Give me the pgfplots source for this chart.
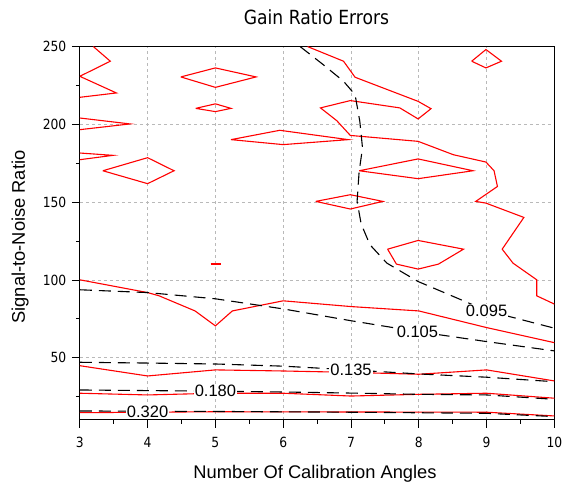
\documentclass[border=0pt]{standalone}
\usepackage{pgfplots}
\pgfplotsset{compat=1.18}
\usepackage{fontspec}
\setmainfont{DejaVu Sans}[FakeStretch=0.88]
\newfontfamily\arialfont{Liberation Sans}

\begin{document}
\begin{tikzpicture}
\useasboundingbox (-79.8pt,-67pt) rectangle (486.2pt,420pt);
\begin{axis}[
    scale only axis,
    width=474.6pt, height=373.4pt,
    xmin=3, xmax=10, ymin=10, ymax=250,
    xtick={3,...,10}, minor x tick num=1,
    ytick={50,100,...,250}, minor ytick={25,75,...,225},
    xtick pos=bottom, ytick pos=left,
    tick align=outside,
    major tick length=8pt, minor tick length=4pt,
    tick style={black, line width=0.8pt},
    grid=major,
    major grid style={gray!55, dash pattern=on 3pt off 3pt, line width=0.7pt},
    axis line style={line width=1pt},
    /pgf/number format/assume math mode=true,
    ticklabel style={font=\fontsize{14}{16}\selectfont},
    xticklabel style={anchor=base, yshift=-20pt},
    yticklabel style={anchor=east, xshift=-2pt},
    red contour/.style={red, line width=1.1pt},
    level/.style={black, line width=1.1pt, dash pattern=on 12pt off 7pt},
]
% red contour set
\addplot[red contour] coordinates {(3.20,250)(3.45,240.6)(3.0,230.9)(3.54,220.2)(3.0,217.4)};
\addplot[red contour] coordinates {(3,204.1)(3.74,200.3)(3,196.6)};
\addplot[red contour] coordinates {(3,181.6)(3.49,180.1)(3,177.3)};
\addplot[red contour] coordinates {(3.34,170.2)(4,178.6)(4.39,170.2)(4,161.9)(3.34,170.2)};
\addplot[red contour] coordinates {(4.49,230.5)(5,236.3)(5.60,230.5)(5,223.8)(4.49,230.5)};
\addplot[red contour] coordinates {(4.71,210.3)(5,213.2)(5.23,210.3)(5,208.2)(4.71,210.3)};
\addplot[red contour] coordinates {(5.23,190.2)(5.95,196.2)(6.96,190.2)(6,187.0)(5.23,190.2)};
\addplot[red contour] coordinates {
    (6.36,250)(6.89,240.6)(7.06,230.3)(7.99,214.8)(8.18,210.1)(7.99,203.5)
    (7.72,210.6)(6.99,215.3)(6.55,210.6)(6.79,202.4)(6.99,192.9)(7.99,189.1)
    (8.51,180.5)(8.99,175.8)(9.11,170.2)(9.16,160.1)(8.84,150.5)(8.99,149.4)
    (9.55,140.2)(9.23,119.8)(9.39,110.8)(9.74,100.1)(9.74,89.8)(10,84.5)};
\addplot[red contour] coordinates {(8.78,240.6)(8.99,248.1)(9.22,240.6)(8.99,236.3)(8.78,240.6)};
\addplot[red contour] coordinates {(7.12,170.2)(7.99,177.8)(8.80,170.2)(7.99,165.1)(7.12,170.2)};
\addplot[red contour] coordinates {(6.48,150.5)(6.99,154.8)(7.47,150.5)(6.99,145.6)(6.48,150.5)};
\addplot[red contour] coordinates {(7.54,119.8)(7.99,125.4)(8.66,119.8)(8.29,110.2)(7.99,107.0)(7.67,110.2)(7.54,119.8)};
\addplot[red, line width=2pt] coordinates {(4.93,110.2)(5.08,110.2)};
\addplot[red contour] coordinates {(3,100.1)(4,91.9)(4.17,89.8)(4.70,80.1)(5,70.5)(5.25,80.1)(6,86.6)(7,82.9)(8,80.1)(9,69.4)(10,59.7)};
\addplot[red contour] coordinates {(3,44.9)(4,38.3)(5,42.2)(6,41.5)(7,40.6)(8,39.4)(9,42.2)(10,35.1)};
\addplot[red contour] coordinates {(3,27.2)(4,26.1)(5,27.2)(6,27.2)(7,25.4)(8,26.5)(9,27.2)(10,24.0)};
\addplot[red contour] coordinates {(3,14.7)(5,15.3)(9,15.0)(10,12.6)};

% labelled dashed levels
\addplot[level] coordinates {(6.25,250)(6.59,238.4)(6.89,227.7)(7.06,219.1)(7.13,202.0)(7.17,184.8)(7.12,169.8)(7.09,150.5)(7.15,136)(7.28,122.6)(7.53,110.8)(7.99,99.0)(9,80.3)(10,69.0)};
\addplot[level] coordinates {(3,93.7)(4,91.9)(5,87.9)(6,81.4)(7,73.8)(8,66.7)(9,60.4)(10,54.4)};
\addplot[level] coordinates {(3,47.1)(4,46.6)(5,46.0)(6,44.6)(7,42.2)(8,39.6)(9,37.5)(10,34.6)};
\addplot[level] coordinates {(3,29.3)(4,28.9)(5,28.5)(6,28.0)(7,27.3)(8,26.5)(9,26.1)(10,23.3)};
\addplot[level] coordinates {(3,15.8)(5,15.5)(7,15.0)(9,14.3)(10,12.2)};

\begin{scope}[every node/.style={fill=white, inner sep=1pt, font=\arialfont\fontsize{16.5}{18}\selectfont}]
\node at (axis cs:9.0,80.3) {0.095};
\node at (axis cs:7.98,66.8) {0.105};
\node at (axis cs:7.0,42.2) {0.135};
\node at (axis cs:5.0,28.5) {0.180};
\node at (axis cs:4.0,15.3) {0.320};
\end{scope}
\end{axis}
\node[anchor=base, font=\fontsize{19.5}{22}\selectfont] at (236.7pt,395pt) {Gain Ratio Errors};
\node[anchor=base, font=\arialfont\fontsize{18.3}{20}\selectfont] at (235.2pt,-58.3pt) {Number Of Calibration Angles};
\node[anchor=base, rotate=90, font=\arialfont\fontsize{18.3}{20}\selectfont] at (-54.8pt,183pt) {Signal-to-Noise Ratio};
\end{tikzpicture}
\end{document}
